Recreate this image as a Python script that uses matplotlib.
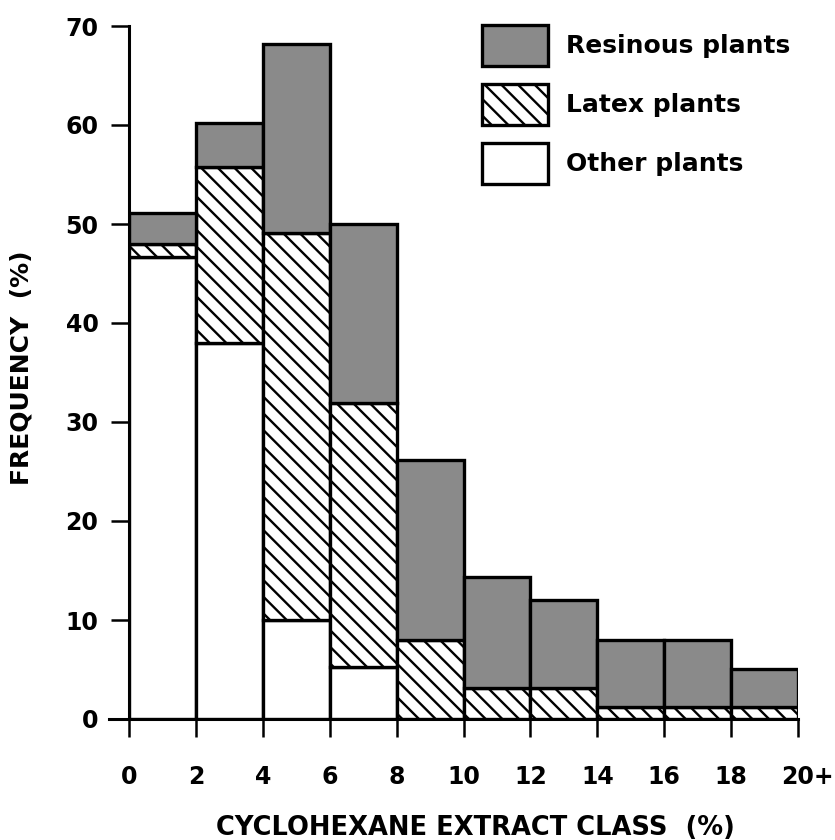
import matplotlib
matplotlib.use("Agg")
import matplotlib.pyplot as plt
import matplotlib.transforms as mtransforms
import numpy as np

# Data
bin_edges = [0, 2, 4, 6, 8, 10, 12, 14, 16, 18, 20]
other = [46.7, 38.0, 10.0, 5.3, 0, 0, 0, 0, 0, 0]
latex = [1.3, 17.8, 39.1, 26.6, 8.0, 3.1, 3.1, 1.2, 1.2, 1.2]
resinous = [3.1, 4.4, 19.1, 18.1, 18.2, 11.2, 8.9, 6.8, 6.8, 3.8]
xtick_vals = [0, 2, 4, 6, 8, 10, 12, 14, 16, 18, 20]
xtick_labels = ["0", "2", "4", "6", "8", "10", "12", "14", "16", "18", "20+"]
ytick_vals = [0, 10, 20, 30, 40, 50, 60, 70]
labels = ["Resinous plants", "Latex plants", "Other plants"]

plt.rcParams['font.family'] = ['DejaVu Sans']
plt.rcParams['font.weight'] = 'bold'
plt.rcParams['hatch.linewidth'] = 1.7
plt.rcParams['hatch.color'] = 'black'

W, H = 835, 840
fig = plt.figure(figsize=(W / 100, H / 100), dpi=100)
ax = fig.add_axes([129 / W, 1 - 719 / H, (798 - 129) / W, (719 - 26) / H])

left = np.array(bin_edges[:-1], dtype=float)
widths = np.diff(bin_edges).astype(float)
other_a = np.array(other)
latex_a = np.array(latex)
res_a = np.array(resinous)

lw = 2.4
b_other = ax.bar(left, other_a, width=widths, align='edge', facecolor='white',
                 edgecolor='black', linewidth=lw, label=labels[2], zorder=2)
b_latex = ax.bar(left, latex_a, width=widths, bottom=other_a, align='edge',
                 facecolor='white', edgecolor='black', hatch='\\\\',
                 linewidth=lw, label=labels[1], zorder=2)
b_res = ax.bar(left, res_a, width=widths, bottom=other_a + latex_a, align='edge',
               facecolor='#8a8a8a', edgecolor='black', linewidth=lw,
               label=labels[0], zorder=2)

ax.set_xlim(0, 20)
ax.set_ylim(0, 70)
for s in ['top', 'right']:
    ax.spines[s].set_visible(False)
for s in ['left', 'bottom']:
    ax.spines[s].set_linewidth(2.2)
    ax.spines[s].set_zorder(3)
ax.spines['bottom'].set_bounds(-0.6, 20)

ax.set_xticks(xtick_vals)
ax.set_xticklabels(xtick_labels)
ax.set_yticks(ytick_vals)
ax.tick_params(axis='y', length=13, width=1.8, pad=9, labelsize=17)
ax.tick_params(axis='x', length=13, width=1.8, pad=20, labelsize=17)
for t in ax.get_xticklabels() + ax.get_yticklabels():
    t.set_fontweight('bold')

# "20+": keep "20" under the tick, "+" to its right
xl = ax.get_xticklabels()
xl[-1].set_ha('left')
off = mtransforms.ScaledTranslation(-17 / 100, 0, fig.dpi_scale_trans)
xl[-1].set_transform(xl[-1].get_transform() + off)

ax.set_xlabel("CYCLOHEXANE EXTRACT CLASS  (%)", fontsize=18.5, fontweight='bold')
ax.xaxis.set_label_coords((475 - 129) / 669, (719 - 828) / 693)
ax.xaxis.label.set_va('center')
ax.set_ylabel("FREQUENCY  (%)", fontsize=18, fontweight='bold')
ax.yaxis.set_label_coords((22 - 129) / 669, (719 - 368) / 693)
ax.yaxis.label.set_va('center')

leg = ax.legend(handles=[b_res, b_latex, b_other], labels=labels,
                loc='upper left', bbox_to_anchor=(482 / W, 1 - 25 / H),
                bbox_transform=fig.transFigure, frameon=False,
                handlelength=2.65, handleheight=2.15,
                labelspacing=0.72, handletextpad=0.7, borderpad=0,
                borderaxespad=0, prop={'weight': 'bold', 'size': 18})

fig.savefig("out.png", dpi=100)
